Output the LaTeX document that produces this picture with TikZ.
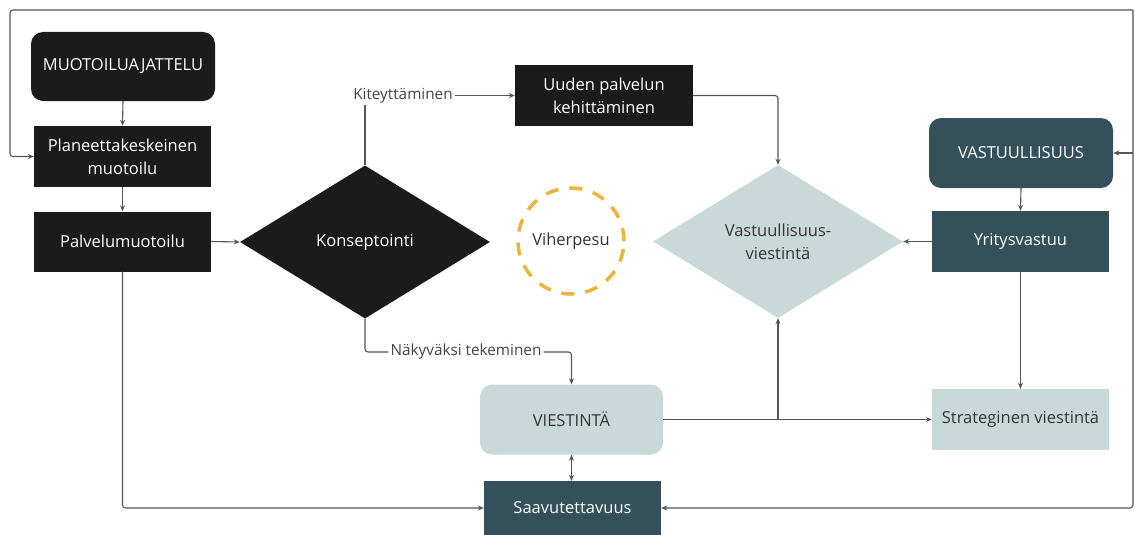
\documentclass[tikz,border=0pt]{standalone}
\usepackage{fontspec}
\setmainfont{Open Sans}
\usetikzlibrary{arrows.meta,shapes.geometric,calc}
\definecolor{inkblack}{HTML}{1B1B1B}
\definecolor{darkteal}{HTML}{34505A}
\definecolor{paleteal}{HTML}{C9D9DA}
\definecolor{wire}{HTML}{555555}
\definecolor{labelgray}{HTML}{444444}
\definecolor{dashorange}{HTML}{EDB33C}
\tikzset{
  boxfont/.style={font=\fontsize{16.5}{23}\selectfont, align=center},
  blackbox/.style={boxfont, rectangle, fill=inkblack, text=white, inner sep=0pt},
  tealbox/.style={boxfont, rectangle, fill=darkteal, text=white, inner sep=0pt},
  palebox/.style={boxfont, rectangle, fill=paleteal, text=black!80, inner sep=0pt},
  rbox/.style={rounded corners=12pt},
  rhombus/.style={boxfont, diamond, inner sep=0pt, minimum width=250pt, minimum height=153pt, shape aspect=1.63},
  edgelabel/.style={font=\fontsize{15.3}{18}\selectfont, text=labelgray, inner sep=2pt},
  wirearrow/.style={draw=wire, line width=1.1pt, rounded corners=3pt, -{Stealth[length=6pt,width=5pt]}},
  wireline/.style={draw=wire, line width=1.1pt, rounded corners=3pt},
}
\begin{document}
\begin{tikzpicture}[x=1pt, y=-1pt]
\useasboundingbox (0,0) rectangle (1135,535);

% left column
\node[blackbox, rbox, minimum width=184pt, minimum height=69pt] (muoto) at (123,66.5) {MUOTOILUAJATTELU};
\node[blackbox, minimum width=177pt, minimum height=61pt] (plan) at (122.5,156.5) {Planeettakeskeinen\\muotoilu};
\node[blackbox, minimum width=177pt, minimum height=60pt] (palv) at (122.5,241.5) {Palvelumuotoilu};

% middle
\node[rhombus, fill=inkblack, text=white] (kons) at (365,242) {Konseptointi};
\node[blackbox, minimum width=178pt, minimum height=61pt] (uuden) at (604,95.5) {Uuden palvelun\\kehittäminen};
\node[boxfont, circle, minimum size=106pt, inner sep=0pt, draw=dashorange, line width=3.5pt, dash pattern=on 13pt off 11pt, text=black!80] (viher) at (571,241) {Viherpesu};
\node[rhombus, fill=paleteal, text=black!80] (vdia) at (778,241.5) {Vastuullisuus-\\viestintä};
\node[palebox, rbox, minimum width=183pt, minimum height=70pt] (viest) at (571.5,419.5) {VIESTINTÄ};
\node[tealbox, minimum width=177pt, minimum height=54pt] (saav) at (572.5,508) {Saavutettavuus};

% right column
\node[tealbox, rbox, minimum width=184pt, minimum height=70pt] (vast) at (1021,153) {VASTUULLISUUS};
\node[tealbox, minimum width=177pt, minimum height=61pt] (yrit) at (1020.5,241.5) {Yritysvastuu};
\node[palebox, minimum width=177pt, minimum height=61pt] (strat) at (1020.5,419.5) {Strateginen viestintä};

% edge labels
\node[edgelabel] (kite) at (403,95.5) {Kiteyttäminen};
\node[edgelabel] (naky) at (466,352) {Näkyväksi tekeminen};

% frame loop
\coordinate (tl) at (10,10);
\coordinate (tr) at (1133,10);
\coordinate (junc) at (vdia.south |- viest.east);

% connectors
\draw[wirearrow] (muoto.south) -- (plan.north);
\draw[wirearrow] (plan.south) -- (palv.north);
\draw[wirearrow] (palv.east) -- (kons.west);
\draw[wireline] (kons.north) -- (kons.north |- kite.south);
\draw[wirearrow] (kite.east) -- (uuden.west);
\draw[wirearrow] (uuden.east) -| (vdia.north);
\draw[wireline] (kons.south) |- (naky.west);
\draw[wirearrow] (naky.east) -| (viest.north);
\draw[wireline, {Stealth[length=6pt,width=5pt]}-{Stealth[length=6pt,width=5pt]}] (viest.south) -- (viest.south |- saav.north);
\draw[wirearrow] (vast.south) -- (yrit.north);
\draw[wirearrow] (yrit.west) -- (vdia.east);
\draw[wirearrow] (yrit.south) -- (strat.north);
\draw[wirearrow] (viest.east) -- (strat.west);
\draw[wirearrow] (junc) -- (vdia.south);
\draw[wirearrow] (palv.south) |- (saav.west);
\draw[wirearrow] (tr) -- (tl) |- (plan.west);
\draw[wirearrow] (tr) |- (saav.east);
\draw[wirearrow] (vast.east -| tr) -- (vast.east);
\end{tikzpicture}
\end{document}
